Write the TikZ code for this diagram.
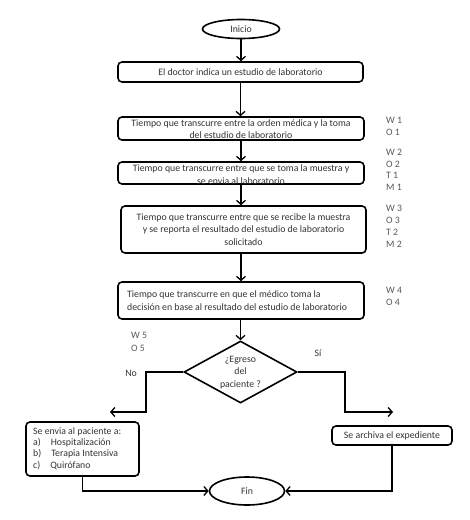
\documentclass[tikz,border=0pt]{standalone}
\usepackage{fontspec}
\setmainfont{Carlito}
\usetikzlibrary{shapes.geometric,arrows.meta}
\begin{document}
\begin{tikzpicture}[x=1pt,y=-1pt,
  every node/.style={font=\fontsize{9.8}{12.3}\selectfont, text=black!80},
  boxshape/.style={draw=black, line width=1.6pt, rounded corners=4pt, inner sep=0pt},
  term/.style={draw=black, line width=1.6pt, ellipse, inner sep=0pt},
  decis/.style={draw=black, line width=1.6pt, diamond, inner sep=0pt, aspect=1.8},
  txt/.style={align=center, inner sep=0pt},
  side/.style={align=left, inner sep=0pt, anchor=north west, text=black!65},
  arr/.style={draw=black, line width=1.3pt, -{Straight Barb[length=4pt,width=9pt]}}
]
\useasboundingbox (0,0) rectangle (470,520);
\fill[white] (0,0) rectangle (470,520);

% terminals
\node[term, minimum width=77pt, minimum height=19pt] (ini) at (241,29) {Inicio};
\node[term, minimum width=75pt, minimum height=28pt] (fin) at (247,491) {Fin};

% boxes
\node[boxshape, minimum width=245pt, minimum height=20pt] (b1) at (240.5,72) {};
\node[txt] (t1) at (b1) {El doctor indica un estudio de laboratorio};

\node[boxshape, minimum width=246pt, minimum height=23pt] (b2) at (241,128.5) {};
\node[txt, font=\fontsize{9.8}{12}\selectfont] (t2) at (241,129.5) {Tiempo que transcurre entre la orden médica y la toma\\del estudio de laboratorio};

\node[boxshape, minimum width=246pt, minimum height=22pt] (b3) at (241,173) {};
\node[txt, font=\fontsize{9.8}{12.5}\selectfont] (t3) at (241,174.5) {Tiempo que transcurre entre que se toma la muestra y\\se envia al laboratorio};

\node[boxshape, minimum width=245pt, minimum height=47pt] (b4) at (243.5,229.5) {};
\node[txt] (t4) at (b4) {Tiempo que transcurre entre que se recibe la muestra\\y se reporta el resultado del estudio de laboratorio\\solicitado};

\node[boxshape, minimum width=246pt, minimum height=37pt] (b5) at (241,300.5) {};
\node[txt, align=left, anchor=west] (t5) at (127,300.5) {Tiempo que transcurre en que el médico toma la\\decisión en base al resultado del estudio de laboratorio};

% decision
\node[decis, minimum width=113pt, minimum height=62pt] (dia) at (240.5,372) {};
\node[txt, font=\fontsize{9.8}{12.5}\selectfont] (td) at (240.5,372.5) {¿Egreso\\del\\paciente ?};

% bottom boxes
\node[boxshape, minimum width=113pt, minimum height=54pt] (lb) at (82.5,449) {};
\node[txt, align=left, anchor=north west, font=\fontsize{9.8}{11.4}\selectfont] (tl) at (33,427) {Se envia al paciente a:\\a)\hspace{10pt}Hospitalización\\b)\hspace{10pt}Terapia Intensiva\\c)\hspace{10pt}Quirófano};

\node[boxshape, minimum width=120pt, minimum height=19pt] (rb) at (392,435.5) {};
\node[txt] (tr) at (rb) {Se archiva el expediente};

% side labels
\node[side, font=\fontsize{9.8}{12}\selectfont] (s1) at (386,116.5) {W 1\\O 1};
\node[side, font=\fontsize{9.8}{11.7}\selectfont] (s2) at (386,149) {W 2\\O 2\\T 1\\M 1};
\node[side, font=\fontsize{9.8}{12.3}\selectfont] (s3) at (386,204.5) {W 3\\O 3\\T 2\\M 2};
\node[side, font=\fontsize{9.8}{12}\selectfont] (s4) at (386,287.5) {W 4\\O 4};
\node[side, font=\fontsize{9.8}{13.5}\selectfont] (s5) at (131,332) {W 5\\O 5};
\node[txt] (no) at (131,373) {No};
\node[txt] (si) at (318,353) {Sí};

% connectors
\draw[arr] (ini.south) -- (ini.south |- b1.north);
\draw[arr] (b1.south) -- (b1.south |- b2.north);
\draw[arr] (b2.south) -- (b2.south |- b3.north);
\draw[arr] (b3.south) -- (b3.south |- b4.north);
\draw[arr] (b4.south -| b3.south) -- (b3.south |- b5.north);
\draw[arr] (b5.south -| dia.north) -- (dia.north);

\coordinate (noBend) at (146,412);
\coordinate (noEnd) at (110,412);
\coordinate (siBend) at (345,412);
\coordinate (siEnd) at (393,412);
\draw[arr] (dia.west) -| (noBend) -- (noEnd);
\draw[arr] (dia.east) -| (siBend) -- (siEnd);

\draw[arr] (lb.south) |- (fin.west);
\draw[arr] (rb.south) |- (fin.east);
\end{tikzpicture}
\end{document}
